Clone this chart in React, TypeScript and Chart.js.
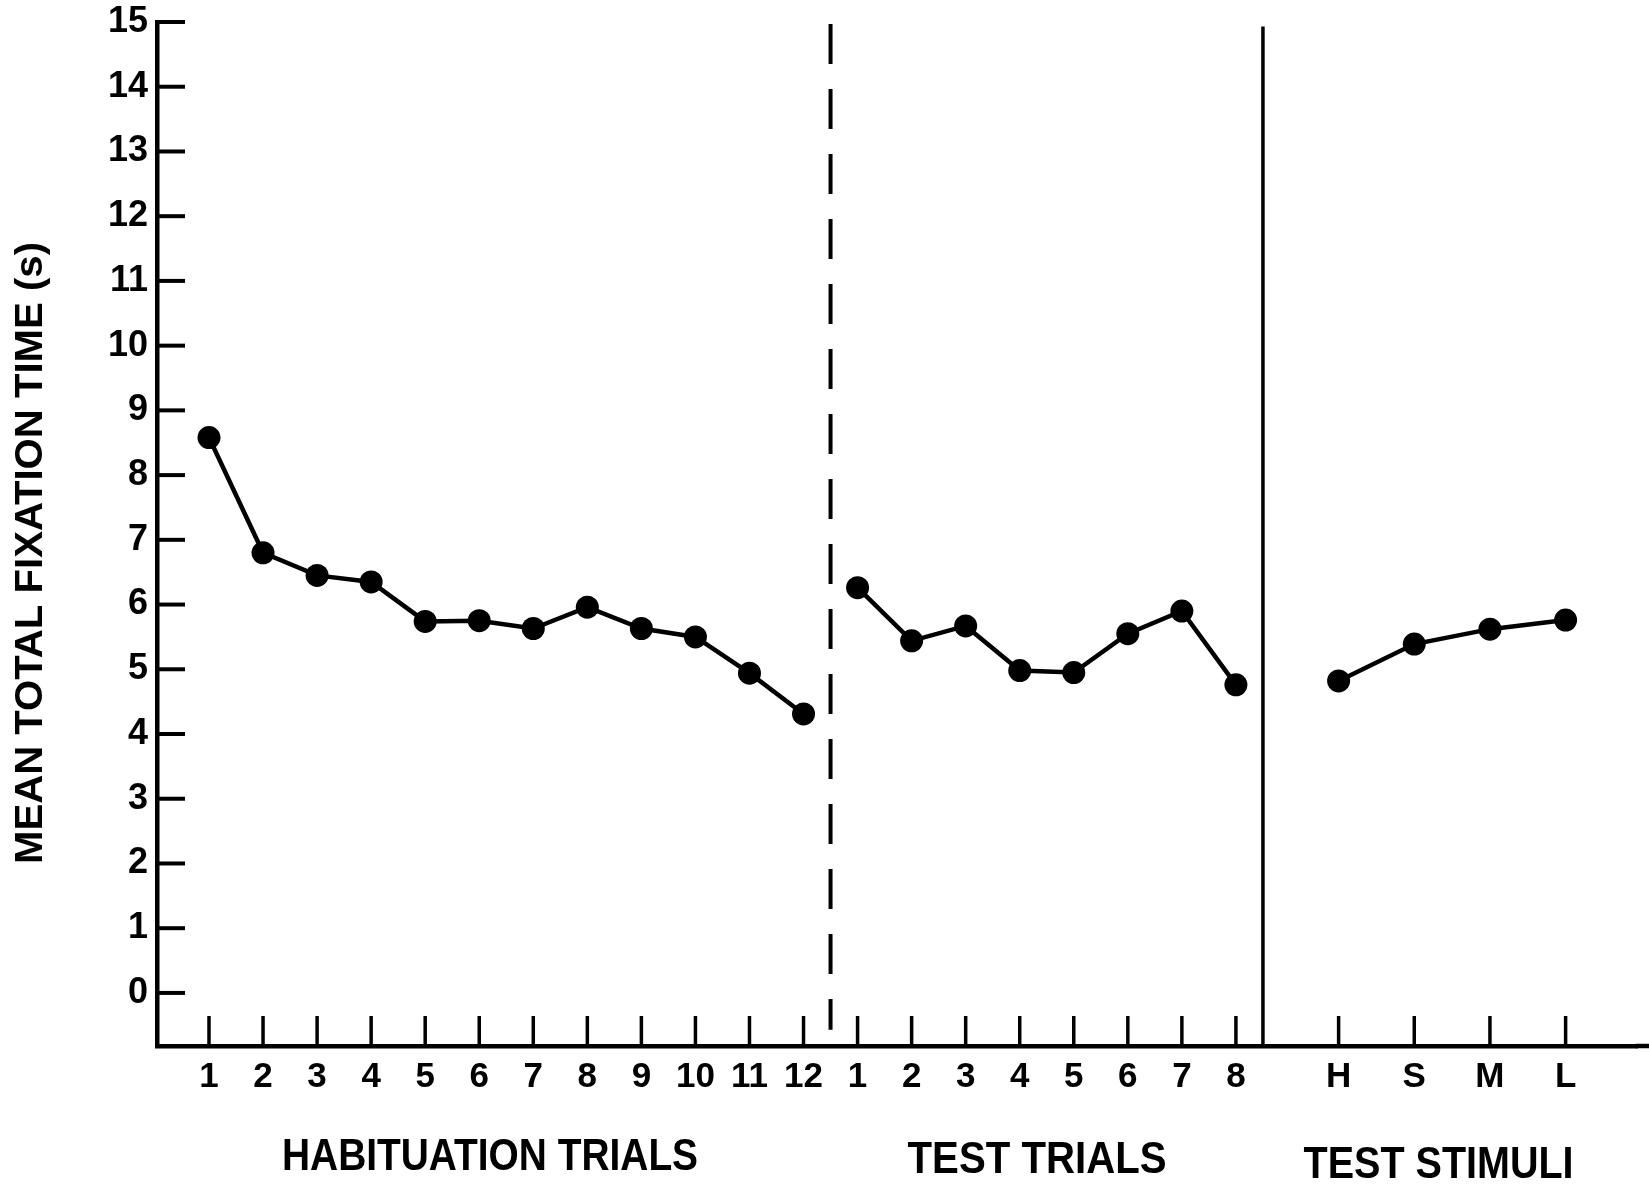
import React, { useEffect, useRef } from 'react';
import { Chart, registerables } from 'chart.js';

Chart.register(...registerables);

// ---- data ----
const habituationLabels = ['1', '2', '3', '4', '5', '6', '7', '8', '9', '10', '11', '12'];
const habituationTimes = [8.58, 6.8, 6.45, 6.35, 5.74, 5.75, 5.63, 5.96, 5.63, 5.5, 4.94, 4.31];

const testTrialLabels = ['1', '2', '3', '4', '5', '6', '7', '8'];
const testTrialTimes = [6.26, 5.44, 5.67, 4.98, 4.95, 5.55, 5.9, 4.76];

const testStimulusLabels = ['H', 'S', 'M', 'L'];
const testStimulusTimes = [4.82, 5.39, 5.62, 5.76];

const yTickValues = [0, 1, 2, 3, 4, 5, 6, 7, 8, 9, 10, 11, 12, 13, 14, 15];

const sectionTitles = ['HABITUATION TRIALS', 'TEST TRIALS', 'TEST STIMULI'];
const yAxisTitle = 'MEAN TOTAL FIXATION TIME (s)';

// ---- layout ----
const habX = habituationLabels.map((_, i) => i + 1);
const testX = testTrialLabels.map((_, i) => habituationLabels.length + i + 1);
const stimX = testStimulusLabels.map((_, i) => 21.9 + 1.4 * i);
const allTickX = [...habX, ...testX, ...stimX];
const allTickLabels = [...habituationLabels, ...testTrialLabels, ...testStimulusLabels];

const X_MIN = 0.038;
const X_MAX = 27.43;
const Y_MIN = -0.82;
const Y_MAX = 15;

const dashedDividerX = 12.5;
const solidDividerX = 20.5;

const sectionTitleX = [6.2, 16.32, 23.75];
const sectionTitleY = [1158, 1161, 1166];
const sectionTitleW = [416, 259, 270];

const FONT = '"Liberation Sans", Arial, sans-serif';
const TICK_FONT = '"Liberation Sans Narrow", "Liberation Sans", Arial, sans-serif';

const decorPlugin = {
  id: 'decor',
  afterDraw(chart: any) {
    const { ctx, chartArea, scales } = chart;
    const xs = scales.x;
    const ys = scales.y;
    ctx.save();
    ctx.strokeStyle = '#000';
    ctx.lineCap = 'butt';
    // continue the bottom axis line to the canvas edge
    ctx.lineWidth = 4.5;
    ctx.beginPath();
    ctx.moveTo(chartArea.right - 2, chartArea.bottom);
    ctx.lineTo(chart.width, chartArea.bottom);
    ctx.stroke();
    // inward y tick marks
    ctx.lineWidth = 4;
    ys.ticks.forEach((t: any) => {
      const py = ys.getPixelForValue(t.value);
      ctx.beginPath();
      ctx.moveTo(chartArea.left, py);
      ctx.lineTo(chartArea.left + 28, py);
      ctx.stroke();
    });
    // inward x tick marks
    ctx.lineWidth = 3.5;
    xs.ticks.forEach((t: any) => {
      const px = xs.getPixelForValue(t.value);
      ctx.beginPath();
      ctx.moveTo(px, chartArea.bottom);
      ctx.lineTo(px, chartArea.bottom - 30);
      ctx.stroke();
    });
    // section titles
    ctx.fillStyle = '#000';
    ctx.textAlign = 'center';
    ctx.textBaseline = 'middle';
    ctx.font = `bold 44px ${FONT}`;
    sectionTitles.forEach((s, i) => {
      const w = ctx.measureText(s).width;
      ctx.save();
      ctx.translate(xs.getPixelForValue(sectionTitleX[i]), sectionTitleY[i]);
      ctx.scale(sectionTitleW[i] / w, 1);
      ctx.fillText(s, 0, 0);
      ctx.restore();
    });
    // y axis title
    ctx.font = `bold 39px ${FONT}`;
    const tw = ctx.measureText(yAxisTitle).width;
    ctx.save();
    ctx.translate(31, 553);
    ctx.rotate(-Math.PI / 2);
    ctx.scale(622 / tw, 1);
    ctx.fillText(yAxisTitle, 0, 0);
    ctx.restore();
    ctx.restore();
  },
};

function seriesDataset(xs: number[], ys: number[]) {
  return {
    type: 'line' as const,
    data: xs.map((x, i) => ({ x, y: ys[i] })),
    borderColor: '#000',
    backgroundColor: '#000',
    borderWidth: 4.5,
    pointRadius: 11.5,
    pointBackgroundColor: '#000',
    pointBorderWidth: 0,
    tension: 0,
    fill: false,
  };
}

export default function App() {
  const canvasRef = useRef<HTMLCanvasElement | null>(null);

  useEffect(() => {
    if (!canvasRef.current) return;
    Chart.defaults.font.family = FONT;
    const chart = new Chart(canvasRef.current, {
      type: 'line',
      data: {
        datasets: [
          seriesDataset(habX, habituationTimes),
          seriesDataset(testX, testTrialTimes),
          seriesDataset(stimX, testStimulusTimes),
          {
            type: 'line',
            data: [
              { x: dashedDividerX, y: 14.97 },
              { x: dashedDividerX, y: -0.57 },
            ],
            borderColor: '#000',
            borderWidth: 4,
            borderDash: [40, 25],
            pointRadius: 0,
            fill: false,
          },
          {
            type: 'line',
            data: [
              { x: solidDividerX, y: 14.93 },
              { x: solidDividerX, y: Y_MIN },
            ],
            borderColor: '#000',
            borderWidth: 3.5,
            pointRadius: 0,
            fill: false,
          },
        ],
      },
      options: {
        animation: false,
        responsive: false,
        layout: { padding: { top: 22, left: 0, right: 0, bottom: 0 } },
        plugins: {
          legend: { display: false },
          tooltip: { enabled: false },
        },
        scales: {
          x: {
            type: 'linear',
            min: X_MIN,
            max: X_MAX,
            grid: { display: false },
            border: { display: true, color: '#000', width: 4.5 },
            ticks: {
              color: '#000',
              font: { family: TICK_FONT, size: 35, weight: 'bold' },
              padding: 2,
              autoSkip: false,
              maxRotation: 0,
              callback: (_v: any, i: number) => allTickLabels[i],
            },
            afterBuildTicks: (s: any) => {
              s.ticks = allTickX.map((v) => ({ value: v }));
            },
            afterFit: (s: any) => {
              s.height = 139;
              s.paddingLeft = 0;
              s.paddingRight = 0;
            },
          },
          y: {
            type: 'linear',
            min: Y_MIN,
            max: Y_MAX,
            grid: { display: false },
            border: { display: true, color: '#000', width: 4.5 },
            ticks: {
              color: '#000',
              font: { family: TICK_FONT, size: 36, weight: 'bold' },
              padding: 1,
            },
            afterBuildTicks: (s: any) => {
              s.ticks = yTickValues.map((v) => ({ value: v }));
            },
            afterFit: (s: any) => {
              s.width = 157;
              s.paddingTop = 0;
              s.paddingBottom = 0;
            },
          },
        },
      },
      plugins: [decorPlugin],
    } as any);
    return () => chart.destroy();
  }, []);

  return (
    <div style={{ position: 'fixed', left: 0, top: 0, width: 1649, height: 1185, background: '#fff' }}>
      <canvas ref={canvasRef} width={1649} height={1185} style={{ display: 'block' }} />
    </div>
  );
}
